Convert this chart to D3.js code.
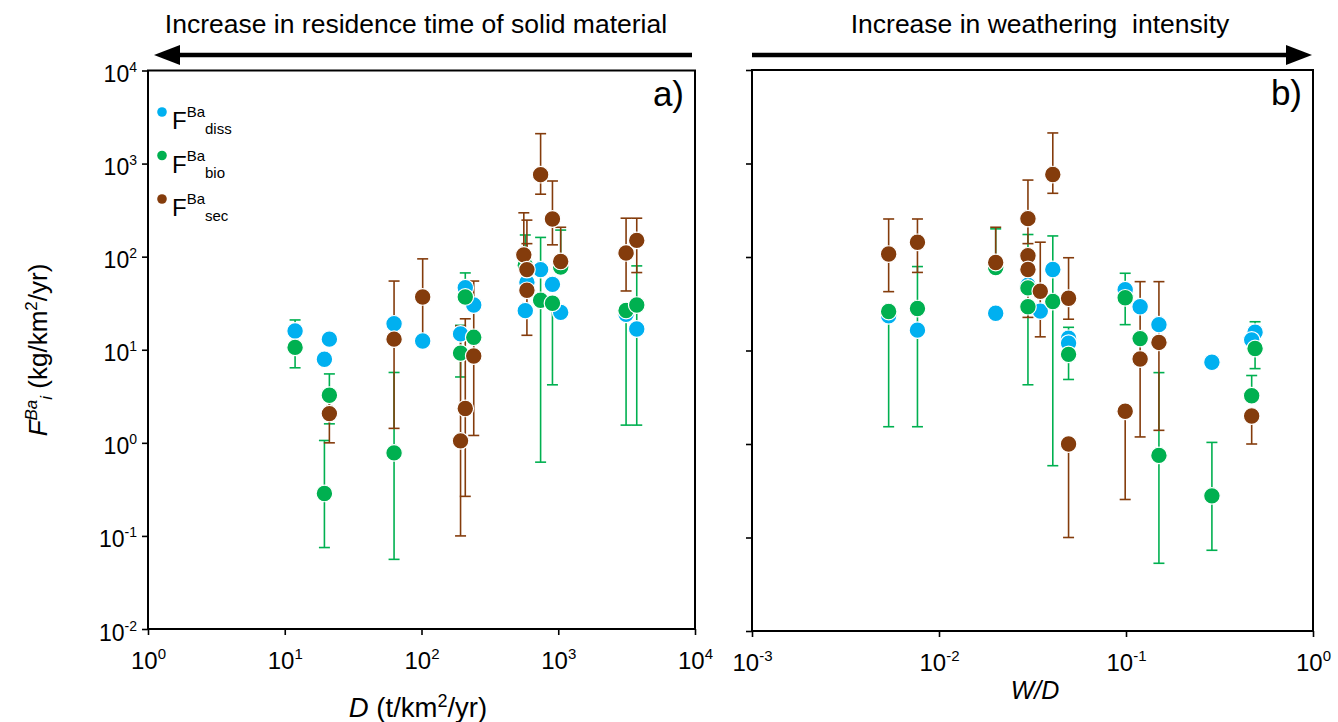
<!DOCTYPE html>
<html><head><meta charset="utf-8">
<script src="https://cdn.jsdelivr.net/npm/d3@7"></script>
<style>
body{margin:0;background:#fff}
svg{font-family:"Liberation Sans",Arial,Helvetica,sans-serif}
</style></head>
<body><svg id="c" width="1338" height="722"></svg>
<script>
// ---------- data ----------
const yTickExps = [-2,-1,0,1,2,3,4];
const aXTickExps = [0,1,2,3,4];
const bXTickExps = [-3,-2,-1,0];
const seriesNames = ["diss","bio","sec"];
const seriesColors = ["#00B0F0","#00B050","#843C0C"];

// Panel a: D (t/km2/yr)
const aDiss = [
 {x:11.9,y:15.9},{x:19.5,y:7.9},{x:21.2,y:13.0},{x:63,y:19.0},{x:102,y:12.4},
 {x:209,y:46.4},{x:193,y:14.8},{x:241,y:30.2},{x:574,y:26.3},{x:590,y:53},
 {x:743,y:72.6},{x:907,y:50.4},{x:1042,y:25.2},{x:3133,y:24},{x:3750,y:16.7}
];
const aBio = [
 {x:11.9,y:10.6,lo:6.4,hi:20.9},{x:19.5,y:0.286,lo:0.075,hi:1.06},{x:21.2,y:3.25,lo:1.6,hi:5.5},
 {x:63,y:0.78,lo:0.056,hi:5.7},{x:209,y:36.9,lo:null,hi:66.9},{x:193,y:9.2,lo:5.1,hi:18.3},
 {x:241,y:13.6,lo:null,hi:null},{x:574,y:81,lo:null,hi:171},{x:743,y:34,lo:0.62,hi:161},
 {x:907,y:31.6,lo:4.2,hi:null},{x:1042,y:77.5,lo:null,hi:193},{x:3133,y:26.4,lo:1.55,hi:null},
 {x:3750,y:30.2,lo:1.55,hi:79.6}
];
const aSec = [
 {x:21.2,y:2.06,lo:1.0,hi:3.0},{x:63,y:13.0,lo:1.43,hi:54.7},{x:102,y:36.9,lo:12.4,hi:94.7},
 {x:209,y:2.34,lo:0.266,hi:21.5},{x:193,y:1.05,lo:0.1,hi:18},{x:241,y:8.56,lo:1.2,hi:54.7},
 {x:560,y:104.6,lo:null,hi:296},{x:590,y:72.6,lo:null,hi:247},{x:590,y:43.5,lo:14.3,hi:138},
 {x:743,y:760,lo:469,hi:2096},{x:907,y:254,lo:134,hi:650},{x:1042,y:88.8,lo:null,hi:207},
 {x:3133,y:109.6,lo:42.8,hi:259},{x:3750,y:149.6,lo:67.5,hi:259}
];

// Panel b: W/D
const bDiss = [
 {x:0.00538,y:23.5},{x:0.00767,y:16.5},{x:0.0201,y:25.0},{x:0.0299,y:50},{x:0.0348,y:26.4},
 {x:0.0406,y:73.5},{x:0.0493,y:13.5},{x:0.0493,y:12},{x:0.099,y:44.7},{x:0.119,y:29.4},
 {x:0.150,y:18.9},{x:0.288,y:7.5},{x:0.49,y:15.7},{x:0.47,y:13}
];
const bBio = [
 {x:0.00538,y:26.1,lo:1.53,hi:null},{x:0.00767,y:28.1,lo:1.53,hi:79},{x:0.0201,y:77,lo:null,hi:200},
 {x:0.0299,y:46.7,lo:null,hi:174},{x:0.0299,y:29.4,lo:4.3,hi:null},{x:0.0406,y:33.4,lo:0.586,hi:168},
 {x:0.0493,y:9.1,lo:4.9,hi:17.7},{x:0.099,y:36.6,lo:18.9,hi:67},{x:0.119,y:13.4,lo:null,hi:null},
 {x:0.150,y:0.755,lo:0.053,hi:5.8},{x:0.288,y:0.279,lo:0.073,hi:1.04},{x:0.49,y:10.5,lo:6.4,hi:20.3},
 {x:0.47,y:3.28,lo:null,hi:5.4}
];
const bSec = [
 {x:0.00538,y:107.5,lo:42.6,hi:255},{x:0.00767,y:143.7,lo:68.4,hi:255},{x:0.0201,y:87.3,lo:null,hi:208},
 {x:0.0299,y:257,lo:139,hi:665},{x:0.0299,y:103,lo:null,hi:null},{x:0.0299,y:73.5,lo:22.6,hi:null},
 {x:0.0348,y:43,lo:14,hi:144},{x:0.0406,y:762,lo:480,hi:2122},{x:0.0493,y:36.2,lo:21.6,hi:98.2},
 {x:0.0493,y:1.0,lo:0.1,hi:null},{x:0.099,y:2.24,lo:0.255,hi:null},{x:0.119,y:8.1,lo:1.19,hi:54.5},
 {x:0.150,y:12.2,lo:1.4,hi:54.5},{x:0.47,y:1.99,lo:1.0,hi:null}
];

// ---------- drawing ----------
const svg = d3.select("#c");

function powLabel(sel, e, sup){
  sel.text(null);
  sel.append("tspan").text("10");
  sel.append("tspan").attr("dy", -10).attr("font-size", sup).text(e);
}

function panel(cfg){
  const g = svg.append("g");
  const x = d3.scaleLog().domain(cfg.xDom).range([cfg.l, cfg.r]);
  const y = d3.scaleLog().domain([1e-2, 1e4]).range([cfg.b, cfg.t]);

  const xa = g.append("g").attr("transform", `translate(0,${cfg.b})`)
    .call(d3.axisBottom(x).tickValues(cfg.xExps.map(e=>Math.pow(10,e))).tickSize(6).tickPadding(17));
  xa.select(".domain").remove();
  xa.selectAll(".tick line").attr("stroke","#000").attr("stroke-width",1.6);
  xa.selectAll(".tick text").attr("font-size", 24).attr("fill","#000").attr("font-family",null)
    .each(function(d){ powLabel(d3.select(this), Math.round(Math.log10(d)), 15); });

  const ya = g.append("g").attr("transform", `translate(${cfg.l},0)`)
    .call(d3.axisLeft(y).tickValues(yTickExps.map(e=>Math.pow(10,e))).tickSize(6).tickPadding(5));
  ya.select(".domain").remove();
  ya.selectAll(".tick line").attr("stroke","#000").attr("stroke-width",1.6);
  ya.selectAll(".tick text").attr("font-size", 23).attr("fill","#000").attr("font-family",null).attr("dy","0.48em")
    .each(function(d){ if(cfg.yLabels) powLabel(d3.select(this), Math.round(Math.log10(d)), 14); else d3.select(this).remove(); });

  g.append("rect").attr("x",cfg.l).attr("y",cfg.t).attr("width",cfg.r-cfg.l).attr("height",cfg.b-cfg.t)
    .attr("fill","none").attr("stroke","#000").attr("stroke-width",2);

  const sets = cfg.sets;
  const cap = 5.5;
  sets.forEach((data,i)=>{
    const col = seriesColors[i];
    const eg = g.append("g").attr("stroke", col).attr("stroke-width",1.6).attr("fill","none");
    data.filter(d=>d.lo!=null||d.hi!=null).forEach(d=>{
      const y0 = y(d.lo!=null?d.lo:d.y), y1 = y(d.hi!=null?d.hi:d.y), cx = x(d.x);
      eg.append("line").attr("x1",cx).attr("x2",cx).attr("y1",y0).attr("y2",y1);
      if(d.lo!=null) eg.append("line").attr("x1",cx-cap).attr("x2",cx+cap).attr("y1",y0).attr("y2",y0);
      if(d.hi!=null) eg.append("line").attr("x1",cx-cap).attr("x2",cx+cap).attr("y1",y1).attr("y2",y1);
    });
  });
  sets.forEach((data,i)=>{
    g.append("g").selectAll("circle").data(data).join("circle")
      .attr("cx",d=>x(d.x)).attr("cy",d=>y(d.y)).attr("r",8.3)
      .attr("fill",seriesColors[i]).attr("stroke","#fff").attr("stroke-width",1.2);
  });

  g.append("text").attr("x",cfg.r-11).attr("y",cfg.t+35).attr("text-anchor","end")
    .attr("font-size",35).text(cfg.letter);
  return {x,y,g};
}

panel({l:148,r:695,t:70.5,b:629,xDom:[1,1e4],xExps:aXTickExps,yLabels:true,
       sets:[aDiss,aBio,aSec],letter:"a)"});
panel({l:752,r:1313,t:70,b:631,xDom:[1e-3,1],xExps:bXTickExps,yLabels:false,
       sets:[bDiss,bBio,bSec],letter:"b)"});

const leg = svg.append("g");
seriesNames.forEach((n,i)=>{
  const yy = 112 + i*43.5;
  leg.append("circle").attr("cx",162).attr("cy",yy).attr("r",4.8).attr("fill",seriesColors[i]);
  const t = leg.append("text").attr("x",172).attr("y",yy+17).attr("font-size",24);
  t.append("tspan").text("F");
  t.append("tspan").attr("dy",-12).attr("font-size",15).text("Ba");
  t.append("tspan").attr("dy",17).attr("font-size",15).text(n);
});

const topG = svg.append("g");
topG.append("text").attr("x",416).attr("y",33).attr("text-anchor","middle").attr("font-size",26.5)
  .text("Increase in residence time of solid material");
topG.append("text").attr("x",1040).attr("y",33).attr("text-anchor","middle").attr("font-size",26.5)
  .style("white-space","pre")
  .text("Increase in weathering  intensity");
topG.append("line").attr("x1",692).attr("x2",175).attr("y1",55).attr("y2",55).attr("stroke","#000").attr("stroke-width",4.5);
topG.append("path").attr("d","M154,55 L180,45 L180,65 Z").attr("fill","#000");
topG.append("line").attr("x1",752).attr("x2",1290).attr("y1",55).attr("y2",55).attr("stroke","#000").attr("stroke-width",4.5);
topG.append("path").attr("d","M1312,55 L1286,45 L1286,65 Z").attr("fill","#000");

const xt = svg.append("text").attr("x",418).attr("y",717).attr("text-anchor","middle").attr("font-size",27.5);
xt.append("tspan").attr("font-style","italic").text("D");
xt.append("tspan").text(" (t/km");
xt.append("tspan").attr("dy",-10).attr("font-size",18).text("2");
xt.append("tspan").attr("dy",10).text("/yr)");

svg.append("text").attr("x",1035).attr("y",699).attr("text-anchor","middle").attr("font-size",25)
  .attr("font-style","italic").text("W/D");

const yt = svg.append("text").attr("transform","translate(47,350) rotate(-90)").attr("text-anchor","middle").attr("font-size",26);
yt.append("tspan").attr("font-style","italic").text("F");
yt.append("tspan").attr("font-style","italic").attr("dy",-10).attr("font-size",17).text("Ba");
yt.append("tspan").attr("font-style","italic").attr("dy",15).attr("font-size",17).text("i");
yt.append("tspan").attr("dy",-5).text(" (kg/km");
yt.append("tspan").attr("dy",-10).attr("font-size",17).text("2");
yt.append("tspan").attr("dy",10).text("/yr)");
</script></body></html>
